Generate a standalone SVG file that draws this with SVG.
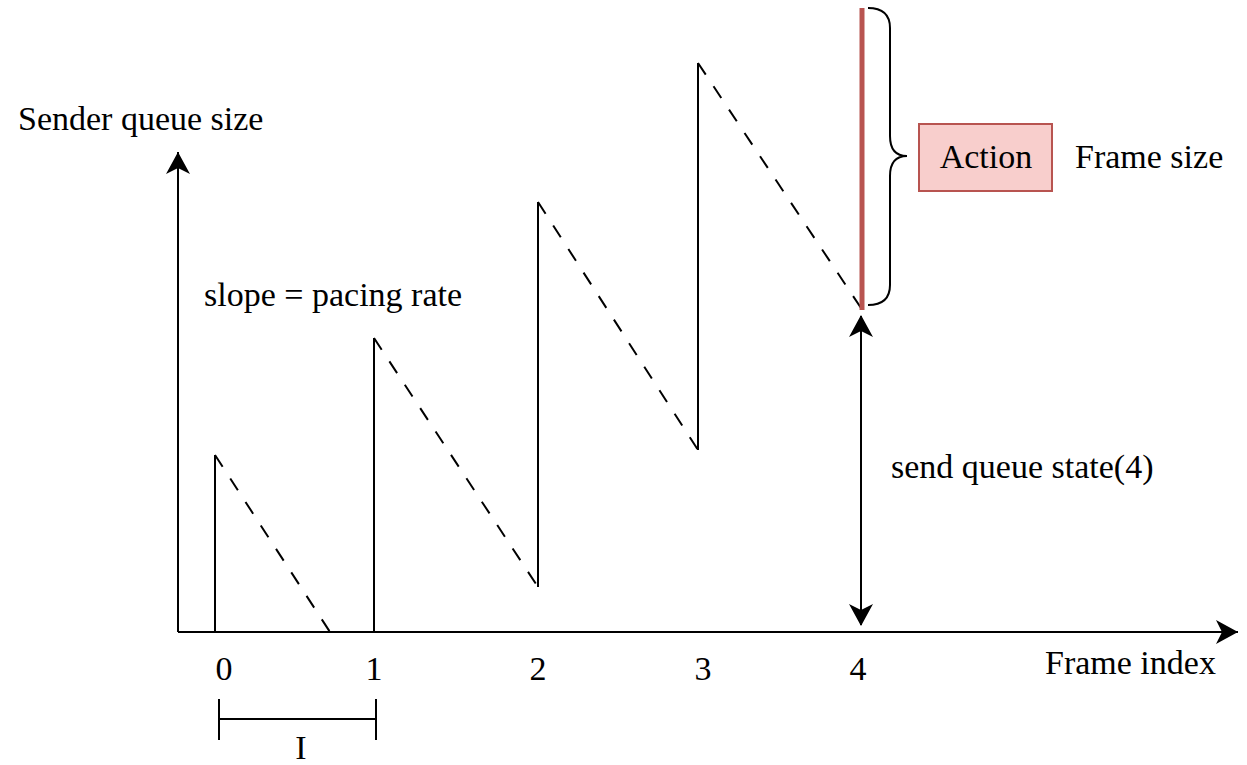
<svg xmlns="http://www.w3.org/2000/svg" width="1247" height="765" viewBox="0 0 1247 765">
<style>
text{font-family:"Liberation Serif","Times New Roman",serif;font-size:34px;fill:#000}
.ln{stroke:#000;stroke-width:2;fill:none}
.ds{stroke:#000;stroke-width:2;fill:none;stroke-dasharray:14 14}
</style>
<defs>
<marker id="ah" viewBox="0 0 22 24" refX="21" refY="12" markerWidth="22" markerHeight="24" markerUnits="userSpaceOnUse" orient="auto-start-reverse">
<path d="M0,0 L22,12 L0,24 L6,12 Z" fill="#000"/>
</marker>
<marker id="ax" viewBox="0 0 22 24" refX="22" refY="12" markerWidth="22" markerHeight="24" markerUnits="userSpaceOnUse" orient="auto">
<path d="M0,0 L22,12 L0,24 L6,12 Z" fill="#000"/>
</marker>
</defs>
<g id="axes">
<line class="ln" x1="178" y1="632" x2="178" y2="152" marker-end="url(#ax)"/>
<line class="ln" x1="178" y1="632" x2="1238" y2="632" marker-end="url(#ax)"/>
<text x="18" y="130">Sender queue size</text>
<text x="1045" y="674">Frame index</text>
</g>
<g id="ticks">
<text x="224" y="680" text-anchor="middle">0</text>
<text x="374" y="680" text-anchor="middle">1</text>
<text x="538" y="680" text-anchor="middle">2</text>
<text x="703" y="680" text-anchor="middle">3</text>
<text x="858" y="680" text-anchor="middle">4</text>
</g>
<g id="interval">
<line class="ln" x1="219" y1="719" x2="376" y2="719"/>
<line class="ln" x1="219" y1="699" x2="219" y2="740"/>
<line class="ln" x1="376" y1="699" x2="376" y2="740"/>
<text x="301" y="759" text-anchor="middle">I</text>
</g>
<g id="sawtooth">
<line class="ln" x1="215" y1="632" x2="215" y2="455"/>
<line class="ds" x1="215" y1="455" x2="330" y2="632"/>
<line class="ln" x1="374" y1="632" x2="374" y2="338"/>
<line class="ds" x1="374" y1="338" x2="538" y2="587"/>
<line class="ln" x1="538" y1="587" x2="538" y2="202"/>
<line class="ds" x1="538" y1="202" x2="698" y2="450"/>
<line class="ln" x1="698" y1="450" x2="698" y2="63"/>
<line class="ds" x1="698" y1="63" x2="861" y2="308"/>
<text x="204" y="306">slope = pacing rate</text>
</g>
<g id="frame4">
<line x1="862" y1="8" x2="862" y2="310" stroke="#b85450" stroke-width="5"/>
<path class="ln" d="M868,8 Q890,8 890,28 L890,136 Q890,156 907,156 Q890,156 890,176 L890,285 Q890,305 868,305"/>
</g>
<g id="action">
<rect x="919" y="124" width="133" height="67" fill="#f8cecc" stroke="#b85450" stroke-width="2"/>
<text x="986" y="168" text-anchor="middle">Action</text>
<text x="1075" y="168">Frame size</text>
</g>
<g id="connectors">
<line class="ln" x1="861" y1="316" x2="861" y2="625" marker-start="url(#ah)" marker-end="url(#ah)"/>
<text x="891" y="478">send queue state(4)</text>
</g>
</svg>
